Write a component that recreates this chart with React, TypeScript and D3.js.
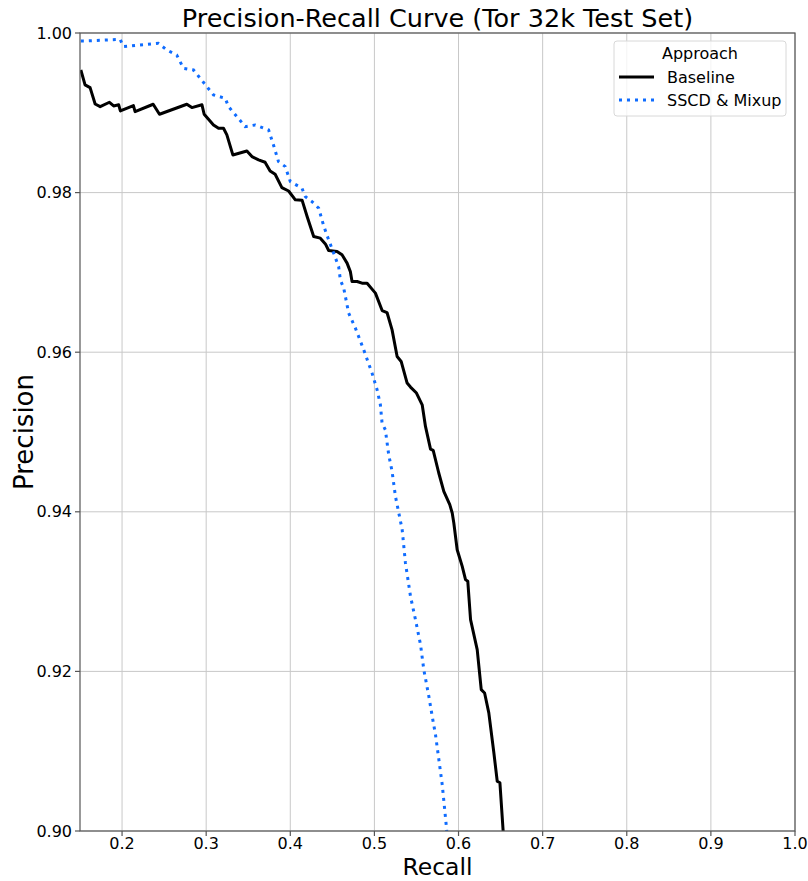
import React from "react";
import * as d3 from "d3";

const xTicks = [0.2, 0.3, 0.4, 0.5, 0.6, 0.7, 0.8, 0.9, 1.0];
const yTicks = [0.9, 0.92, 0.94, 0.96, 0.98, 1.0];

const baselineRecall = [
  0.151, 0.156, 0.162, 0.168, 0.174, 0.185, 0.19, 0.196, 0.198, 0.2135, 0.2155, 0.237, 0.2445,
  0.277, 0.283, 0.295, 0.2976, 0.3087, 0.3147, 0.3206, 0.3246, 0.3317, 0.3484, 0.3544, 0.3623,
  0.37, 0.376, 0.382, 0.39, 0.398, 0.406, 0.414, 0.42, 0.4278, 0.4357, 0.4417, 0.4456, 0.4556,
  0.4615, 0.4675, 0.4714, 0.4734, 0.4794, 0.4853, 0.4913, 0.4972, 0.5012, 0.5092, 0.515, 0.521,
  0.527, 0.5318, 0.5389, 0.5429, 0.55, 0.5568, 0.5607, 0.5667, 0.5699, 0.5765, 0.5825, 0.5896,
  0.5925, 0.5944, 0.5984, 0.6044, 0.6083, 0.611, 0.6143, 0.6222, 0.627, 0.631, 0.636, 0.642,
  0.646, 0.6492, 0.654,
];
const baselinePrecision = [
  0.99537, 0.9935, 0.99315, 0.9911, 0.99077, 0.99132, 0.99086, 0.991, 0.99023, 0.9909, 0.99015,
  0.99107, 0.98982, 0.99107, 0.99065, 0.991, 0.98982, 0.98848, 0.98806, 0.98806, 0.98723, 0.98472,
  0.98522, 0.98451, 0.9841, 0.9838, 0.98272, 0.9823, 0.98063, 0.9802, 0.97909, 0.97905, 0.977,
  0.97449, 0.97429, 0.97357, 0.97274, 0.97261, 0.9722, 0.97116, 0.9701, 0.96886, 0.96886, 0.96865,
  0.96865, 0.9679, 0.9674, 0.96522, 0.96497, 0.9628, 0.95946, 0.95884, 0.95613, 0.95563, 0.95488,
  0.95341, 0.9507, 0.94786, 0.9477, 0.94486, 0.94256, 0.94089, 0.93985, 0.9386, 0.93525, 0.93316,
  0.9315, 0.9313, 0.92649, 0.92273, 0.91772, 0.9173, 0.9148, 0.9098, 0.90624, 0.90604, 0.8985,
];

const mixupRecall = [
  0.151, 0.156, 0.1976, 0.2016, 0.2432, 0.2532, 0.265, 0.273, 0.2849, 0.3008, 0.3087, 0.3226,
  0.3266, 0.3464, 0.3583, 0.3742, 0.38, 0.386, 0.394, 0.4, 0.4139, 0.4179, 0.4258, 0.4337, 0.4397,
  0.4456, 0.4516, 0.4575, 0.4595, 0.4635, 0.4694, 0.4774, 0.4873, 0.4972, 0.5032, 0.5071, 0.5091,
  0.513, 0.517, 0.521, 0.525, 0.529, 0.533, 0.5369, 0.5429, 0.5488, 0.5548, 0.5587, 0.5647, 0.5687,
  0.5726, 0.5766, 0.5806, 0.5857, 0.587,
];
const mixupPrecision = [
  0.999, 0.999, 0.99921, 0.99829, 0.9987, 0.99787, 0.99724, 0.99558, 0.99537, 0.99328, 0.99224,
  0.99182, 0.99077, 0.98827, 0.98848, 0.98785, 0.98597, 0.98388, 0.98326, 0.98138, 0.98055, 0.9795,
  0.97887, 0.97805, 0.97583, 0.97408, 0.97241, 0.97073, 0.96907, 0.96803, 0.9649, 0.96302, 0.9603,
  0.95738, 0.95529, 0.95341, 0.95112, 0.95028, 0.94715, 0.94506, 0.94193, 0.93985, 0.93776, 0.93359,
  0.92941, 0.92649, 0.92336, 0.92023, 0.91688, 0.91438, 0.91208, 0.90896, 0.90582, 0.9004, 0.8985,
];

const W = 808;
const H = 881;
const margin = { left: 80, right: 13, top: 33, bottom: 50 };
const FONT = "DejaVu Sans, sans-serif";
const BLUE = "#0f6cff";

export default function App() {
  const x = d3.scaleLinear().domain([0.15, 1.0]).range([margin.left, W - margin.right]);
  const y = d3.scaleLinear().domain([0.9, 1.0]).range([H - margin.bottom, margin.top]);
  const line = d3
    .line<[number, number]>()
    .x((d) => x(d[0]))
    .y((d) => y(d[1]));
  const base: [number, number][] = baselineRecall.map((r, i) => [r, baselinePrecision[i]]);
  const mix: [number, number][] = mixupRecall.map((r, i) => [r, mixupPrecision[i]]);
  const x0 = margin.left;
  const x1 = W - margin.right;
  const y0 = margin.top;
  const y1 = H - margin.bottom;

  return (
    <svg
      width={W}
      height={H}
      style={{ position: "absolute", left: 0, top: 0, background: "#fff" }}
      fontFamily={FONT}
    >
      <defs>
        <clipPath id="plotclip">
          <rect x={x0} y={y0} width={x1 - x0} height={y1 - y0} />
        </clipPath>
      </defs>
      {/* grid */}
      {xTicks.map((t) => (
        <line key={"gx" + t} x1={x(t)} x2={x(t)} y1={y0} y2={y1} stroke="#c8c8c8" strokeWidth={1} />
      ))}
      {yTicks.map((t) => (
        <line key={"gy" + t} x1={x0} x2={x1} y1={y(t)} y2={y(t)} stroke="#c8c8c8" strokeWidth={1} />
      ))}
      {/* curves */}
      <g clipPath="url(#plotclip)">
        <path d={line(base) || ""} fill="none" stroke="#000" strokeWidth={3} strokeLinejoin="round" />
        <path
          d={line(mix) || ""}
          fill="none"
          stroke={BLUE}
          strokeWidth={3}
          strokeDasharray="3,5"
        />
      </g>
      {/* spines */}
      <rect x={x0} y={y0} width={x1 - x0} height={y1 - y0} fill="none" stroke="#555" strokeWidth={1.2} />
      {/* x ticks */}
      {xTicks.map((t) => (
        <g key={"xt" + t}>
          <line x1={x(t)} x2={x(t)} y1={y1} y2={y1 + 5} stroke="#555" strokeWidth={1.2} />
          <text x={x(t)} y={y1 + 18} textAnchor="middle" fontSize={16} fill="#000">
            {t.toFixed(1)}
          </text>
        </g>
      ))}
      {/* y ticks */}
      {yTicks.map((t) => (
        <g key={"yt" + t}>
          <line x1={x0 - 5} x2={x0} y1={y(t)} y2={y(t)} stroke="#555" strokeWidth={1.2} />
          <text x={x0 - 8} y={y(t) + 5.5} textAnchor="end" fontSize={16} fill="#000">
            {t.toFixed(2)}
          </text>
        </g>
      ))}
      {/* labels */}
      <text x={(x0 + x1) / 2} y={27} textAnchor="middle" fontSize={25.5} fill="#000">
        Precision-Recall Curve (Tor 32k Test Set)
      </text>
      <text x={(x0 + x1) / 2} y={875} textAnchor="middle" fontSize={23.5} fill="#000">
        Recall
      </text>
      <text
        transform={`translate(33, ${(y0 + y1) / 2}) rotate(-90)`}
        textAnchor="middle"
        fontSize={26}
        fill="#000"
      >
        Precision
      </text>
      {/* legend */}
      <g>
        <rect x={614} y={41} width={172} height={75} rx={3} fill="#fff" fillOpacity={0.8} stroke="#d8d8d8" />
        <text x={700} y={59} textAnchor="middle" fontSize={16} fill="#000">
          Approach
        </text>
        <line x1={619} x2={654} y1={77} y2={77} stroke="#000" strokeWidth={3} />
        <text x={667} y={83} fontSize={16} fill="#000">
          Baseline
        </text>
        <line x1={619} x2={654} y1={100} y2={100} stroke={BLUE} strokeWidth={3} strokeDasharray="3,5" />
        <text x={667} y={106} fontSize={16} fill="#000">
          SSCD &amp; Mixup
        </text>
      </g>
    </svg>
  );
}
